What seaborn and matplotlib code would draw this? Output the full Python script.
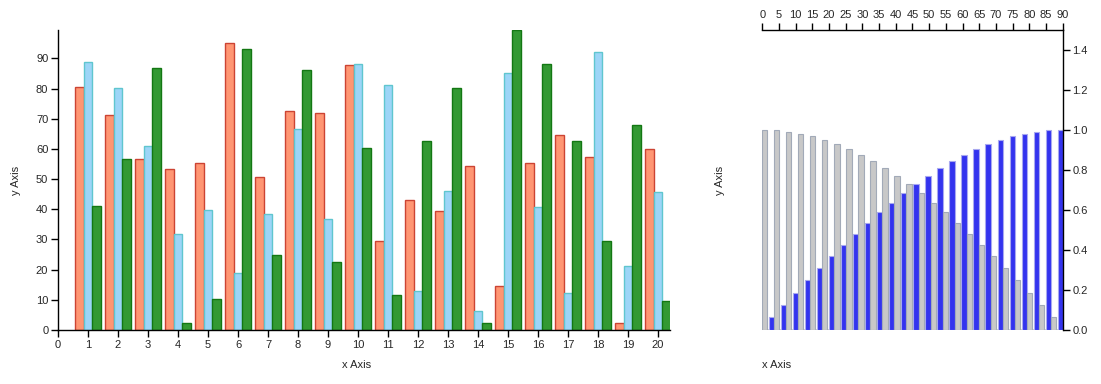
import matplotlib
matplotlib.use('Agg')

import pandas as pd
import matplotlib.pyplot as plt
import seaborn as sns

# left chart data
groups = list(range(1, 21))
series_a = [80.6, 71.4, 56.5, 53.2, 55.4, 95.1, 50.6, 72.4, 72.0, 87.9,
            29.6, 43.0, 39.4, 54.4, 14.6, 55.2, 64.7, 57.3, 2.2, 60.1]
series_b = [88.7, 80.2, 60.8, 31.8, 39.6, 18.8, 38.3, 66.5, 36.7, 88.0,
            81.1, 12.8, 45.9, 6.2, 85.0, 40.6, 12.1, 92.2, 21.1, 45.7]
series_c = [41.0, 56.8, 86.9, 2.3, 10.2, 93.0, 25.0, 86.0, 22.6, 60.2,
            11.5, 62.5, 80.2, 2.4, 99.5, 88.2, 62.6, 29.4, 67.8, 9.7]

# right chart data (degrees)
angles = [0, 3.6, 7.2, 10.8, 14.4, 18, 21.6, 25.2, 28.8, 32.4, 36, 39.6, 43.2,
          46.8, 50.4, 54, 57.6, 61.2, 64.8, 68.4, 72, 75.6, 79.2, 82.8, 86.4, 90]
sin_vals = [0.0, 0.063, 0.125, 0.187, 0.249, 0.309, 0.368, 0.426, 0.482, 0.536,
            0.588, 0.637, 0.685, 0.729, 0.771, 0.809, 0.844, 0.876, 0.905, 0.930,
            0.951, 0.969, 0.982, 0.992, 0.998, 1.0]
cos_vals = [1.0, 0.998, 0.992, 0.982, 0.969, 0.951, 0.930, 0.905, 0.876, 0.844,
            0.809, 0.771, 0.729, 0.685, 0.637, 0.588, 0.536, 0.482, 0.426, 0.368,
            0.309, 0.249, 0.187, 0.125, 0.063, 0.0]

sns.set_style("white")
plt.rcParams['font.family'] = ['Liberation Sans', 'DejaVu Sans']
plt.rcParams['font.size'] = 8

fig = plt.figure(figsize=(11.01, 3.84), dpi=100)
ax1 = fig.add_axes([58 / 1101, 54 / 384, 612 / 1101, 300 / 384])
ax2 = fig.add_axes([762.3 / 1101, 54 / 384, 300.4 / 1101, 300 / 384])

# ---- 左图：分组柱状图 ----
df1 = pd.DataFrame({
    "x": groups * 3,
    "value": series_a + series_b + series_c,
    "series": ["a"] * 20 + ["b"] * 20 + ["c"] * 20,
})
fills1 = {"a": "#FF9673", "b": "#9DD5F7", "c": "#339933"}
edges1 = ["#CC4433", "#5FC6CF", "#137713"]
sns.barplot(data=df1, x="x", y="value", hue="series", native_scale=True,
            palette=fills1, width=0.85, legend=False, ax=ax1, saturation=1)
for cont, ec in zip(ax1.containers, edges1):
    for p in cont:
        p.set_edgecolor(ec)
        p.set_linewidth(1.0)

ax1.set_xlim(0, 20.4)
ax1.set_ylim(0, 99.4)
ax1.set_xticks(range(0, 21))
ax1.set_yticks(range(0, 91, 10))
for s in ["top", "right"]:
    ax1.spines[s].set_visible(False)
for s in ["left", "bottom"]:
    ax1.spines[s].set_color("black")
    ax1.spines[s].set_linewidth(1.0)
ax1.tick_params(direction="out", length=5, width=1, color="black", labelsize=8, pad=2)
ax1.tick_params(axis="x", bottom=True)
ax1.tick_params(axis="y", left=True)
ax1.set_xlabel("x Axis", fontsize=8)
ax1.set_ylabel("y Axis", fontsize=8)
ax1.xaxis.set_label_coords((357 - 58) / 612, -30 / 300)
ax1.yaxis.set_label_coords(-(58 - 21) / 612, 0.5)

# ---- 右图：正弦/余弦柱状图 ----
df2 = pd.DataFrame({
    "angle": angles * 2,
    "value": sin_vals + cos_vals,
    "series": ["sin"] * len(angles) + ["cos"] * len(angles),
})
fills2 = {"sin": "#3333EE", "cos": "#C8C8C8"}
edges2 = ["#A8A8F0", "#A2AAB8"]
sns.barplot(data=df2, x="angle", y="value", hue="series", native_scale=True,
            palette=fills2, width=0.85, legend=False, ax=ax2, saturation=1)
for cont, ec in zip(ax2.containers, edges2):
    for p in cont:
        p.set_edgecolor(ec)
        p.set_linewidth(0.8)
ax2.axhline(0, color="#C8C8C8", linewidth=1.2, zorder=0)

ax2.set_xlim(0, 90)
ax2.set_ylim(0, 1.5)
ax2.set_xticks(range(0, 91, 5))
ax2.set_yticks([0.0, 0.2, 0.4, 0.6, 0.8, 1.0, 1.2, 1.4])
ax2.set_yticklabels([f"{v:.1f}" for v in [0.0, 0.2, 0.4, 0.6, 0.8, 1.0, 1.2, 1.4]])
for s in ["bottom", "left"]:
    ax2.spines[s].set_visible(False)
for s in ["top", "right"]:
    ax2.spines[s].set_color("black")
    ax2.spines[s].set_linewidth(1.0)
ax2.xaxis.tick_top()
ax2.yaxis.tick_right()
ax2.tick_params(direction="out", length=5, width=1, color="black", labelsize=8, pad=2)
ax2.set_xlabel("x Axis", fontsize=8, ha="left")
ax2.set_ylabel("y Axis", fontsize=8)
ax2.xaxis.set_label_position("bottom")
ax2.yaxis.set_label_position("left")
ax2.xaxis.set_label_coords(0, -30 / 300)
ax2.yaxis.set_label_coords(-(762 - 725) / 300.4, 0.5)

plt.savefig("out.png", dpi=100)
plt.close()
